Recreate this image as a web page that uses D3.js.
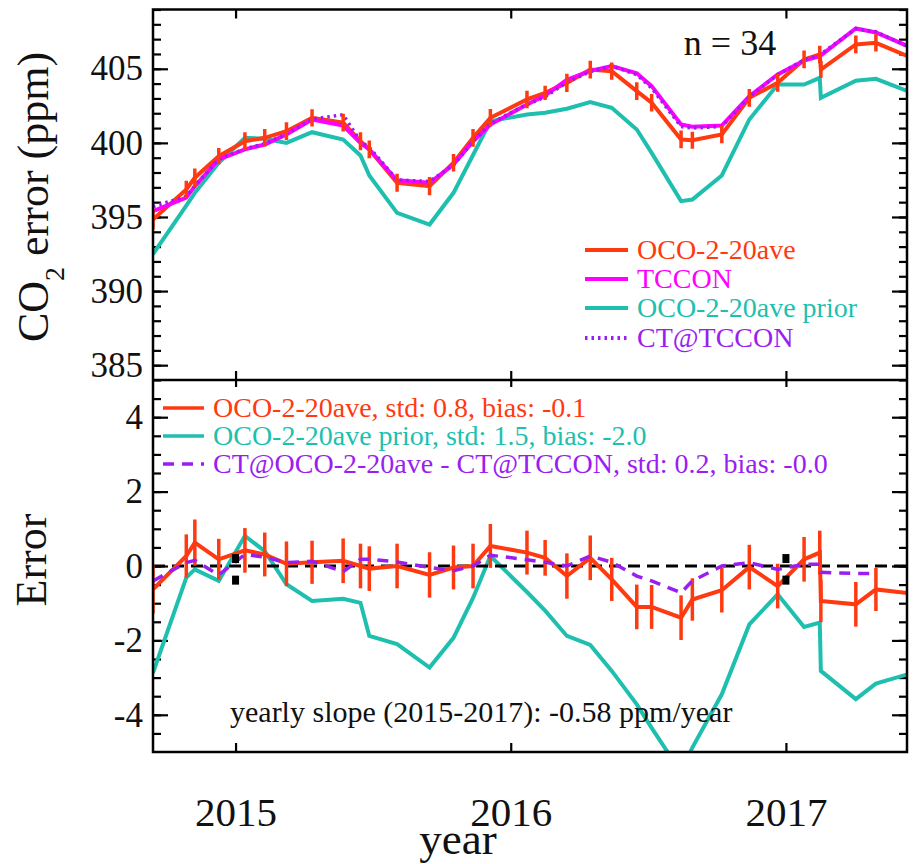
<!DOCTYPE html>
<html>
<head>
<meta charset="utf-8">
<script src="https://cdn.jsdelivr.net/npm/d3@7"></script>
<style>
    body { margin: 0; background: #fff; }
    svg { display: block; }
    text { font-family: 'Liberation Serif', 'DejaVu Serif', serif; }
</style>
</head>
<body>
<svg id="chart" width="914" height="864"></svg>
<script>
// Sample times (decimal year), one per OCO-2 match
const times = [2014.700, 2014.821, 2014.852, 2014.939, 2015.034, 2015.106, 2015.185, 2015.278,
    2015.391, 2015.454, 2015.486, 2015.587, 2015.705, 2015.792, 2015.863, 2015.926,
    2016.059, 2016.125, 2016.204, 2016.289, 2016.367, 2016.458, 2016.512, 2016.619,
    2016.660, 2016.767, 2016.867, 2016.970, 2017.066, 2017.123, 2017.127, 2017.254,
    2017.327, 2017.443];

// Top panel: CO2 (ppm)
const ocoValues = [394.83, 396.86, 397.65, 399.10, 400.11, 400.34, 400.79, 401.69,
    401.36, 400.11, 399.56, 397.31, 397.08, 398.66, 400.34, 401.69,
    402.93, 403.38, 404.05, 404.95, 404.84, 403.49, 402.71, 400.23,
    400.18, 400.57, 403.04, 404.05, 405.63, 405.97, 404.95, 406.64,
    406.75, 405.85];
const tcconValues = [395.39, 396.30, 397.08, 398.88, 399.56, 399.89, 400.57, 401.58,
    401.17, 400.00, 399.56, 397.48, 397.31, 398.54, 400.11, 401.24,
    402.59, 403.20, 404.25, 404.86, 405.18, 404.70, 403.83, 401.24,
    401.09, 401.17, 403.15, 404.62, 405.55, 405.85, 405.90, 407.72,
    407.45, 406.53];
const priorValues = [392.50, 395.77, 396.63, 398.66, 400.34, 400.28, 400.00, 400.72,
    400.23, 399.15, 397.80, 395.28, 394.49, 396.63, 399.18, 401.46,
    401.92, 402.03, 402.30, 402.75, 402.37, 400.90, 399.33, 396.07,
    396.18, 397.80, 401.58, 403.94, 403.94, 404.39, 403.04, 404.19,
    404.32, 403.49];
const ctTcconValues = [395.70, 396.40, 397.10, 398.90, 399.60, 399.95, 400.60, 401.60,
    401.90, 400.10, 399.70, 397.50, 397.40, 398.50, 400.10, 401.30,
    402.60, 403.10, 404.10, 404.80, 405.20, 404.60, 403.70, 401.10,
    401.00, 401.10, 403.10, 404.60, 405.60, 405.90, 406.00, 407.70,
    407.50, 406.50];

// Bottom panel: errors against TCCON (ppm)
const ocoError = [-0.63, 0.27, 0.63, 0.18, 0.42, 0.31, 0.06, 0.10, 0.14, 0.00, -0.07, 0.00,
    -0.24, -0.04, 0.00, 0.54, 0.36, 0.22, -0.27, 0.22, -0.36, -1.10, -1.10, -1.39,
    -0.90, -0.65, -0.03, -0.54, 0.18, 0.36, -0.94, -1.03, -0.63, -0.73];
const priorError = [-2.87, -0.31, -0.09, -0.40, 0.81, 0.40, -0.49, -0.94, -0.88, -0.99, -1.88, -2.10,
    -2.73, -1.93, -0.86, 0.27, -0.70, -1.20, -1.88, -2.12, -2.82, -3.72, -4.35, -5.55,
    -4.88, -3.45, -1.57, -0.76, -1.64, -1.52, -2.82, -3.58, -3.16, -2.91];
const ctError = [-0.40, 0.09, 0.15, -0.24, 0.31, 0.24, 0.09, 0.13, -0.15, 0.18, 0.18, 0.11,
    -0.04, -0.13, 0.00, 0.29, 0.17, 0.10, 0.00, 0.27, 0.10, -0.27, -0.40, -0.72,
    -0.40, 0.00, 0.09, -0.09, 0.05, 0.05, -0.17, -0.20, -0.20, null];
// Half length of the OCO-2 error bars (ppm)
const ocoSpread = [0.65, 0.58, 0.62, 0.55, 0.60, 0.59, 0.60, 0.58, 0.60, 0.60, 0.60, 0.60,
    0.61, 0.59, 0.60, 0.59, 0.59, 0.48, 0.61, 0.60, 0.58, 0.60, 0.59, 0.60,
    0.57, 0.60, 0.60, 0.60, 0.60, 0.59, 0.57, 0.60, 0.58, 0.60];

// Black marks at the year boundaries
const markYears = [2015, 2015, 2017, 2017];
const markValues = [0.20, -0.38, 0.20, -0.38];

const yearTicks = [2015, 2016, 2017];
const topTicks = [385, 390, 395, 400, 405];
const bottomTicks = [-4, -2, 0, 2, 4];

const colors = {
    oco: '#ff3a10',
    tccon: '#ff00ff',
    prior: '#1ebfae',
    ct: '#9b1ef0'
};

const svg = d3.select('#chart');
const plotLeft = 153, plotRight = 907, plotTop = 9.5, plotMid = 380, plotBottom = 752;

const x = d3.scaleLinear().domain([2014.70, 2017.44]).range([plotLeft, plotRight]);
const yTop = d3.scaleLinear().domain([384, 409]).range([plotMid, plotTop]);
const yBot = d3.scaleLinear().domain([-5, 5]).range([plotBottom, plotMid]);

const rows = times.map((t, i) => ({
    t: t,
    oco: ocoValues[i], tccon: tcconValues[i], prior: priorValues[i], ct: ctTcconValues[i],
    eOco: ocoError[i], ePrior: priorError[i], eCt: ctError[i], spread: ocoSpread[i]
}));

// Clip paths for both panels
const defs = svg.append('defs');
defs.append('clipPath').attr('id', 'clipTop').append('rect')
    .attr('x', plotLeft).attr('y', plotTop).attr('width', plotRight - plotLeft).attr('height', plotMid - plotTop);
defs.append('clipPath').attr('id', 'clipBot').append('rect')
    .attr('x', plotLeft).attr('y', plotMid).attr('width', plotRight - plotLeft).attr('height', plotBottom - plotMid);

// Axis helper: ticks point into the panel, no domain line
const plainNumber = d => String(d);
function drawAxis(axis, tx, ty, fontSize) {
    const g = svg.append('g').attr('transform', `translate(${tx},${ty})`).call(axis);
    g.select('.domain').remove();
    g.selectAll('line').attr('stroke', '#000').attr('stroke-width', 2.2);
    g.selectAll('text').attr('fill', '#111').attr('font-family', 'Liberation Serif')
        .attr('font-size', fontSize);
    return g;
}

// Y axes, top panel
drawAxis(d3.axisLeft(yTop).tickValues(d3.range(384, 410)).tickSize(-8).tickFormat(''), plotLeft, 0, 0);
drawAxis(d3.axisLeft(yTop).tickValues(topTicks).tickSize(-15).tickPadding(10).tickFormat(plainNumber), plotLeft, 0, 35);
drawAxis(d3.axisRight(yTop).tickValues(d3.range(384, 410)).tickSize(-8).tickFormat(''), plotRight, 0, 0);
drawAxis(d3.axisRight(yTop).tickValues(topTicks).tickSize(-15).tickFormat(''), plotRight, 0, 0);

// Y axes, bottom panel
drawAxis(d3.axisLeft(yBot).tickValues(d3.range(-4.5, 5, 0.5)).tickSize(-8).tickFormat(''), plotLeft, 0, 0);
drawAxis(d3.axisLeft(yBot).tickValues(bottomTicks).tickSize(-15).tickPadding(10).tickFormat(plainNumber), plotLeft, 0, 35);
drawAxis(d3.axisRight(yBot).tickValues(d3.range(-4.5, 5, 0.5)).tickSize(-8).tickFormat(''), plotRight, 0, 0);
drawAxis(d3.axisRight(yBot).tickValues(bottomTicks).tickSize(-15).tickFormat(''), plotRight, 0, 0);

// X axes
drawAxis(d3.axisTop(x).tickValues(yearTicks).tickSize(-9).tickFormat(''), 0, plotTop, 0);
drawAxis(d3.axisBottom(x).tickValues(yearTicks).tickSize(-9).tickFormat(''), 0, plotMid, 0);
drawAxis(d3.axisTop(x).tickValues(yearTicks).tickSize(-7).tickFormat(''), 0, plotMid, 0);
drawAxis(d3.axisBottom(x).tickValues(yearTicks).tickSize(-9).tickPadding(45).tickFormat(plainNumber), 0, plotBottom, 41);

// Top panel lines
const topG = svg.append('g').attr('clip-path', 'url(#clipTop)');
const lineOf = (scale, key) => d3.line()
    .defined(d => d[key] !== null)
    .x(d => x(d.t)).y(d => scale(d[key]));

topG.append('path').datum(rows).attr('d', lineOf(yTop, 'prior'))
    .attr('fill', 'none').attr('stroke', colors.prior).attr('stroke-width', 4);
topG.append('path').datum(rows).attr('d', lineOf(yTop, 'oco'))
    .attr('fill', 'none').attr('stroke', colors.oco).attr('stroke-width', 4);
topG.append('path').datum(rows).attr('d', lineOf(yTop, 'tccon'))
    .attr('fill', 'none').attr('stroke', colors.tccon).attr('stroke-width', 4);
topG.append('path').datum(rows).attr('d', lineOf(yTop, 'ct'))
    .attr('fill', 'none').attr('stroke', colors.ct).attr('stroke-width', 3.5)
    .attr('stroke-dasharray', '2.5,4');
topG.selectAll('line.err').data(rows).enter().append('line')
    .attr('x1', d => x(d.t)).attr('x2', d => x(d.t))
    .attr('y1', d => yTop(d.oco - d.spread)).attr('y2', d => yTop(d.oco + d.spread))
    .attr('stroke', colors.oco).attr('stroke-width', 3.5);

// Bottom panel lines
const botG = svg.append('g').attr('clip-path', 'url(#clipBot)');
botG.append('path').datum(rows).attr('d', lineOf(yBot, 'ePrior'))
    .attr('fill', 'none').attr('stroke', colors.prior).attr('stroke-width', 4);
botG.append('line')
    .attr('x1', plotLeft).attr('x2', plotRight).attr('y1', yBot(0)).attr('y2', yBot(0))
    .attr('stroke', '#000').attr('stroke-width', 3.2).attr('stroke-dasharray', '12,7');
botG.append('path').datum(rows).attr('d', lineOf(yBot, 'eOco'))
    .attr('fill', 'none').attr('stroke', colors.oco).attr('stroke-width', 4);
botG.selectAll('line.err').data(rows).enter().append('line')
    .attr('x1', d => x(d.t)).attr('x2', d => x(d.t))
    .attr('y1', d => yBot(d.eOco - d.spread)).attr('y2', d => yBot(d.eOco + d.spread))
    .attr('stroke', colors.oco).attr('stroke-width', 3.5);
botG.append('path').datum(rows).attr('d', lineOf(yBot, 'eCt'))
    .attr('fill', 'none').attr('stroke', colors.ct).attr('stroke-width', 3.5)
    .attr('stroke-dasharray', '11,8');
botG.selectAll('rect.mark').data(markYears).enter().append('rect')
    .attr('x', d => x(d) - 3.5).attr('y', (d, i) => yBot(markValues[i]) - 4.5)
    .attr('width', 7).attr('height', 9).attr('fill', '#000');

// Frames
svg.append('rect').attr('x', plotLeft).attr('y', plotTop)
    .attr('width', plotRight - plotLeft).attr('height', plotBottom - plotTop)
    .attr('fill', 'none').attr('stroke', '#000').attr('stroke-width', 2.5);
svg.append('line').attr('x1', plotLeft).attr('x2', plotRight).attr('y1', plotMid).attr('y2', plotMid)
    .attr('stroke', '#000').attr('stroke-width', 2.5);

// Legend, top panel
const topLegend = [
    { label: 'OCO-2-20ave', color: colors.oco, dash: null, y: 250 },
    { label: 'TCCON', color: colors.tccon, dash: null, y: 279 },
    { label: 'OCO-2-20ave prior', color: colors.prior, dash: null, y: 308 },
    { label: 'CT@TCCON', color: colors.ct, dash: '2.5,4', y: 338 }
];
topLegend.forEach(item => {
    svg.append('line').attr('x1', 585).attr('x2', 628).attr('y1', item.y).attr('y2', item.y)
        .attr('stroke', item.color).attr('stroke-width', 4)
        .attr('stroke-dasharray', item.dash);
    svg.append('text').attr('x', 637).attr('y', item.y).attr('dy', '0.33em')
        .attr('fill', item.color).attr('font-size', 28).text(item.label);
});

// Legend, bottom panel
const bottomLegend = [
    { label: 'OCO-2-20ave, std: 0.8, bias: -0.1', color: colors.oco, dash: null, y: 408 },
    { label: 'OCO-2-20ave prior, std: 1.5, bias: -2.0', color: colors.prior, dash: null, y: 436 },
    { label: 'CT@OCO-2-20ave - CT@TCCON, std: 0.2, bias: -0.0', color: colors.ct, dash: '11,8', y: 464 }
];
bottomLegend.forEach(item => {
    svg.append('line').attr('x1', 163).attr('x2', 204).attr('y1', item.y).attr('y2', item.y)
        .attr('stroke', item.color).attr('stroke-width', 3.5)
        .attr('stroke-dasharray', item.dash);
    svg.append('text').attr('x', 213).attr('y', item.y).attr('dy', '0.33em')
        .attr('fill', item.color).attr('font-size', 28).text(item.label);
});

// Annotations
svg.append('text').attr('x', 730).attr('y', 43).attr('dy', '0.33em').attr('text-anchor', 'middle')
    .attr('fill', '#111').attr('font-size', 36).text('n = 34');
svg.append('text').attr('x', 230).attr('y', 712).attr('dy', '0.33em')
    .attr('fill', '#111').attr('font-size', 30).text('yearly slope (2015-2017): -0.58 ppm/year');

// Axis titles
const yTitle = svg.append('text').attr('transform', 'translate(48,197) rotate(-90)')
    .attr('text-anchor', 'middle').attr('fill', '#111').attr('font-size', 44);
yTitle.append('tspan').text('CO');
yTitle.append('tspan').attr('baseline-shift', 'sub').attr('font-size', 28).text('2');
yTitle.append('tspan').text(' error (ppm)');

svg.append('text').attr('transform', 'translate(46,560) rotate(-90)')
    .attr('text-anchor', 'middle').attr('fill', '#111').attr('font-size', 44).text('Error');
svg.append('text').attr('x', 458).attr('y', 854).attr('text-anchor', 'middle')
    .attr('fill', '#111').attr('font-size', 45).text('year');
</script>
</body>
</html>
